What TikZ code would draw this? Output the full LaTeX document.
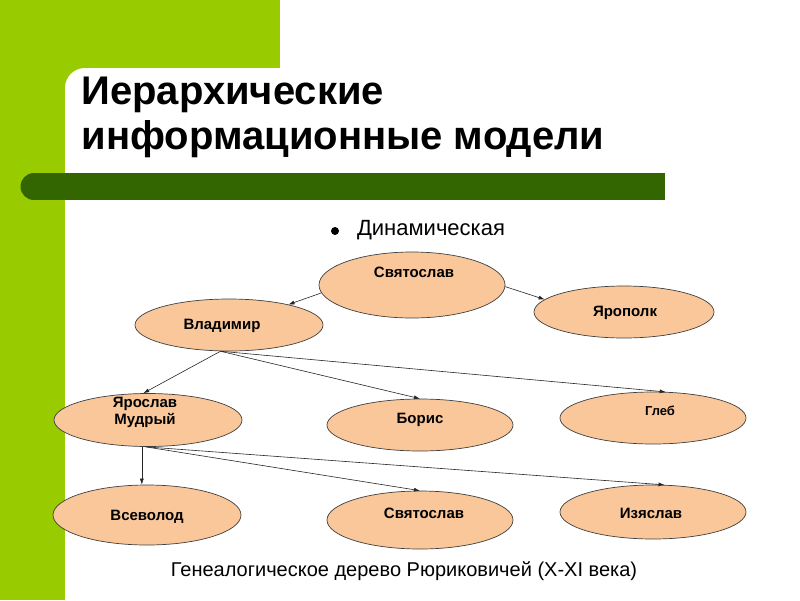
\documentclass[tikz,border=0pt]{standalone}
\usepackage{fontspec}
\setmainfont{Liberation Sans}
\usetikzlibrary{shapes.geometric,arrows.meta}
\begin{document}
\begin{tikzpicture}[x=1pt,y=-1pt,
  pers/.style={ellipse,draw=black!75,fill=peach,line width=0.7pt,inner sep=0},
  lab/.style={font=\bfseries\fontsize{15}{17}\selectfont,align=center},
  arr/.style={-{Latex[length=6pt,width=4pt]},black!85,line width=0.6pt}]
\definecolor{peach}{HTML}{F9C79A}
\definecolor{lgreen}{HTML}{99CC00}
\definecolor{dgreen}{HTML}{336600}
\useasboundingbox (0,0) rectangle (800,600);
\fill[white] (0,0) rectangle (800,600);
\fill[lgreen] (0,0) rectangle (280,90);
\fill[lgreen] (0,0) rectangle (65,600);
\fill[white,rounded corners=20] (65,68) rectangle (840,640);
\fill[dgreen] (34,173) rectangle (665,200);
\fill[dgreen] (34,186.5) circle (13.5);
\node[anchor=west,font=\bfseries\fontsize{40}{45}\selectfont,align=left] (title) at (78,117) {Иерархические\\информационные модели};
\node[font=\fontsize{22}{26}\selectfont] (dyn) at (431,230) {Динамическая};
\fill (335,231) circle (4);
\path (412,285) node[pers,minimum width=186,minimum height=66] (s1) {}
 (624,312) node[pers,minimum width=180,minimum height=52] (yp) {}
 (229,325) node[pers,minimum width=188,minimum height=52] (vl) {}
 (148,420) node[pers,minimum width=188,minimum height=53] (ym) {}
 (420,425) node[pers,minimum width=186,minimum height=52] (bo) {}
 (653,418) node[pers,minimum width=186,minimum height=52] (gl) {}
 (147,515) node[pers,minimum width=188,minimum height=60] (vs) {}
 (420,520) node[pers,minimum width=186,minimum height=58] (s2) {}
 (653,512) node[pers,minimum width=186,minimum height=54] (iz) {};
\node[lab] (t1) at (414,272) {Святослав};
\node[lab] (t2) at (625,313) {Ярополк};
\node[lab] (t3) at (222,326) {Владимир};
\node[lab] (t4) at (145,412) {Ярослав\\Мудрый};
\node[lab] (t5) at (420,420) {Борис};
\node[lab,font=\bfseries\fontsize{13}{15}\selectfont] (t6) at (660,411) {Глеб};
\node[lab] (t7) at (147,517) {Всеволод};
\node[lab] (t8) at (424,513) {Святослав};
\node[lab] (t9) at (651,513) {Изяслав};
\draw[arr] (s1.185) -- (vl.19);
\draw[arr] (s1.-1) -- (yp.171);
\draw[arr] (vl.252) -- (ym.100);
\draw[arr] (vl.252) -- (bo.north);
\draw[arr] (vl.252) -- (gl.64);
\draw[arr] (ym.257) -- (vs.north -| ym.257);
\draw[arr] (ym.265) -- (s2.north);
\draw[arr] (ym.265) -- (iz.67);
\node[font=\fontsize{20}{24}\selectfont] (cap) at (404,571) {Генеалогическое дерево Рюриковичей (X-XI века)};
\end{tikzpicture}
\end{document}
